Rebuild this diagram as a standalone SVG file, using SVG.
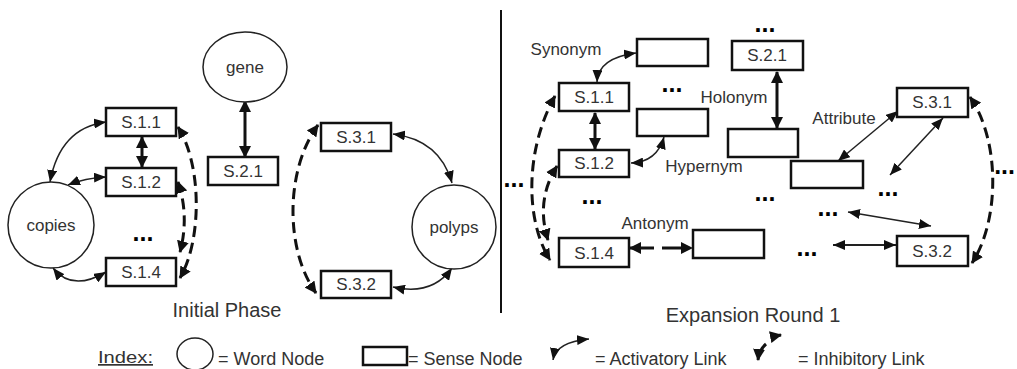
<svg xmlns="http://www.w3.org/2000/svg" width="1017" height="369" viewBox="0 0 1017 369">
<style>
text{font-family:"Liberation Sans",Arial,sans-serif;fill:#333;}
.lb{font-size:17px;text-anchor:middle;}
.tt{font-size:20px;text-anchor:middle;}
.lg{font-size:18px;}
.dots{font-size:25px;font-weight:bold;text-anchor:middle;fill:#000;}
.word{fill:#fff;stroke:#222;stroke-width:1.5;}
.sense{fill:#fff;stroke:#111;stroke-width:2.5;}
.act{fill:none;stroke:#222;stroke-width:1.5;marker-start:url(#ah);marker-end:url(#ah);}
.thick{fill:none;stroke:#111;stroke-width:3;marker-start:url(#ahb);marker-end:url(#ahb);}
.inh{fill:none;stroke:#111;stroke-width:3;stroke-dasharray:11 6;marker-start:url(#ahb);marker-end:url(#ahb);}
</style>
<defs>
<marker id="ah" viewBox="0 0 12 10" refX="12" refY="5" markerWidth="12" markerHeight="10" markerUnits="userSpaceOnUse" orient="auto-start-reverse"><path d="M0,0 L12,5 L0,10 z" fill="#111"/></marker>
<marker id="ahb" viewBox="0 0 12 12" refX="11" refY="6" markerWidth="12" markerHeight="12" markerUnits="userSpaceOnUse" orient="auto-start-reverse"><path d="M0,0 L12,6 L0,12 z" fill="#111"/></marker>
</defs>

<line x1="501" y1="10" x2="501" y2="313" stroke="#111" stroke-width="2"/>

<g id="connectors">
<!-- left panel -->
<path class="act" d="M50,182 Q60,128 106,122"/>
<path class="act" d="M68,185 Q85,178 106,177"/>
<path class="act" d="M53,268 Q72,292 106,272"/>
<path class="thick" d="M142,137 L142,167"/>
<path class="thick" d="M245,101 L245,157"/>
<path class="inh" d="M178,127 C202,165 202,240 180,278"/>
<path class="inh" d="M178,182 C186,205 186,230 180,252"/>
<path class="act" d="M393,134 Q440,140 452,183"/>
<path class="act" d="M393,287 Q432,296 452,268"/>
<path class="inh" d="M318,125 C285,170 285,250 316,293"/>
<!-- right panel -->
<path class="act" d="M597,82 Q598,58 636,53"/>
<path class="thick" d="M595,113 L595,149"/>
<path class="act" d="M631,163 Q657,162 664,137"/>
<path class="thick" d="M777,72 L777,128"/>
<path class="inh" d="M630,248 L692,248" style="stroke-dasharray:24 8"/>
<path class="act" d="M898,111 L838,161"/>
<path class="act" d="M943,118 L890,175"/>
<path class="act" d="M848,212 L931,226"/>
<path class="act" d="M833,245 L896,245" style="stroke-width:2"/>
<path class="inh" d="M970,97 C1000,140 1000,220 972,263"/>
<path class="inh" d="M555,96 C525,150 525,220 550,260"/>
<path class="inh" d="M557,166 C542,190 540,215 548,240"/>
</g>

<!-- left panel nodes -->
<g id="gene"><ellipse class="word" cx="245" cy="67" rx="42" ry="35"/><text class="lb" x="245" y="73">gene</text></g>
<g id="copies"><ellipse class="word" cx="51" cy="225" rx="43" ry="43"/><text class="lb" x="51" y="231">copies</text></g>
<g id="polyps"><ellipse class="word" cx="454" cy="227" rx="42" ry="42"/><text class="lb" x="454" y="233">polyps</text></g>
<g id="L_S11"><rect class="sense" x="106" y="108" width="70" height="28"/><text class="lb" x="141" y="128">S.1.1</text></g>
<g id="L_S12"><rect class="sense" x="106" y="168" width="70" height="28"/><text class="lb" x="141" y="188">S.1.2</text></g>
<g id="L_S14"><rect class="sense" x="106" y="258" width="70" height="28"/><text class="lb" x="141" y="278">S.1.4</text></g>
<g id="L_S21"><rect class="sense" x="208" y="157" width="70" height="28"/><text class="lb" x="243" y="177">S.2.1</text></g>
<g id="L_S31"><rect class="sense" x="321" y="123" width="70" height="28"/><text class="lb" x="356" y="143">S.3.1</text></g>
<g id="L_S32"><rect class="sense" x="321" y="271" width="70" height="27"/><text class="lb" x="356" y="290">S.3.2</text></g>
<text class="dots" x="143" y="241">...</text>
<text class="tt" x="227" y="317">Initial Phase</text>

<!-- right panel nodes -->
<g id="R_S11"><rect class="sense" x="559" y="83" width="70" height="28"/><text class="lb" x="594" y="103">S.1.1</text></g>
<g id="R_S12"><rect class="sense" x="559" y="150" width="70" height="27"/><text class="lb" x="594" y="169">S.1.2</text></g>
<g id="R_S14"><rect class="sense" x="559" y="238" width="70" height="29"/><text class="lb" x="594" y="259">S.1.4</text></g>
<g id="R_syn"><rect class="sense" x="637" y="39" width="71" height="27"/></g>
<g id="R_hyper"><rect class="sense" x="637" y="109" width="71" height="27"/></g>
<g id="R_S21"><rect class="sense" x="732" y="41" width="71" height="29"/><text class="lb" x="767" y="61">S.2.1</text></g>
<g id="R_holo"><rect class="sense" x="728" y="129" width="70" height="28"/></g>
<g id="R_attr"><rect class="sense" x="791" y="161" width="72" height="27"/></g>
<g id="R_anton"><rect class="sense" x="693" y="230" width="71" height="28"/></g>
<g id="R_S31"><rect class="sense" x="897" y="88" width="71" height="29"/><text class="lb" x="932" y="108">S.3.1</text></g>
<g id="R_S32"><rect class="sense" x="897" y="236" width="71" height="30"/><text class="lb" x="932" y="257">S.3.2</text></g>

<text class="lb" x="566" y="55">Synonym</text>
<text class="lb" x="734" y="103">Holonym</text>
<text class="lb" x="704" y="172">Hypernym</text>
<text class="lb" x="655" y="229">Antonym</text>
<text class="lb" x="844" y="124">Attribute</text>

<text class="dots" x="514" y="187">...</text>
<text class="dots" x="672" y="92">...</text>
<text class="dots" x="765" y="32">...</text>
<text class="dots" x="592" y="204">...</text>
<text class="dots" x="765" y="201">...</text>
<text class="dots" x="888" y="196">...</text>
<text class="dots" x="828" y="216">...</text>
<text class="dots" x="807" y="256">...</text>
<text class="dots" x="1015" y="174" style="text-anchor:end">...</text>
<text class="tt" x="753" y="322">Expansion Round 1</text>

<!-- legend -->
<g id="legend">
<text class="lg" x="98" y="363" textLength="55" lengthAdjust="spacingAndGlyphs" style="font-size:17px;text-decoration:underline">Index:</text>
<ellipse class="word" cx="195" cy="354" rx="18" ry="16"/>
<text class="lg" x="218" y="365">= Word Node</text>
<rect class="sense" x="363" y="347" width="44" height="18"/>
<text class="lg" x="408" y="365">= Sense Node</text>
<path class="act" d="M553,360 Q556,342 589,339"/>
<text class="lg" x="595" y="365">= Activatory Link</text>
<path d="M758,360 Q759,350 766,344" fill="none" stroke="#111" stroke-width="3" marker-start="url(#ahb)"/>
<path d="M771,337 L781,335" fill="none" stroke="#111" stroke-width="3" marker-end="url(#ahb)"/>
<text class="lg" x="798" y="365">= Inhibitory Link</text>
</g>
</svg>
